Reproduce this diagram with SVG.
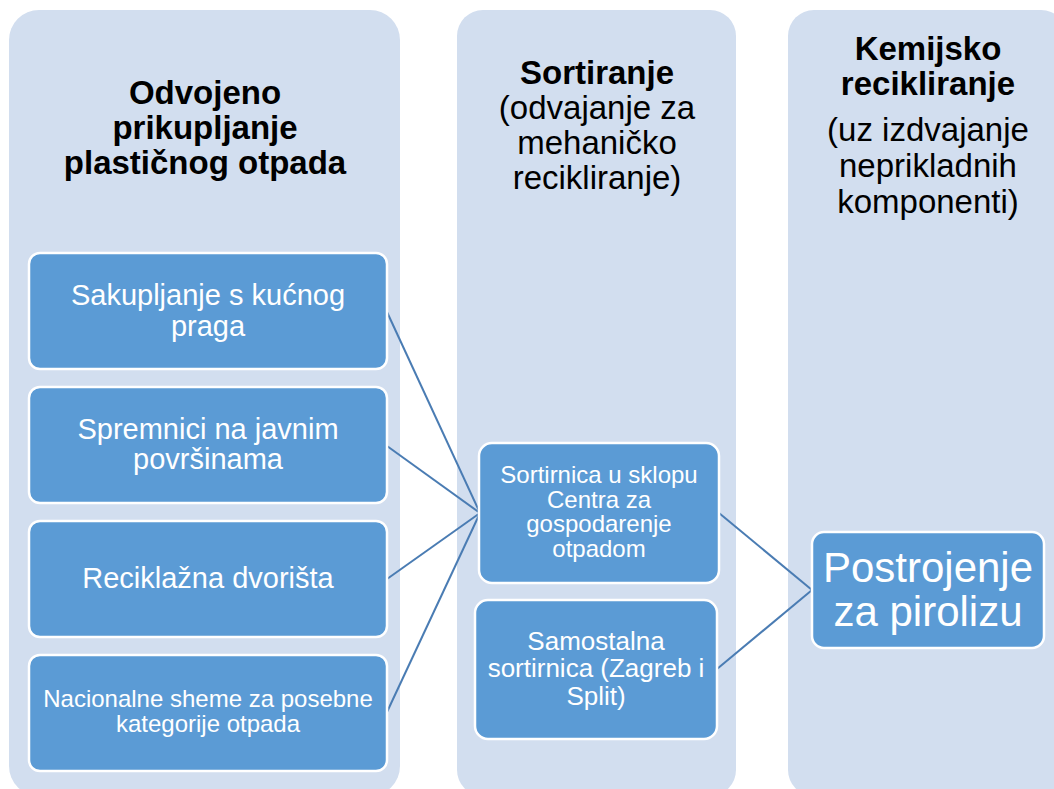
<svg xmlns="http://www.w3.org/2000/svg" width="1054" height="789" viewBox="0 0 1054 789">
<style>
.col{fill:#D2DEEF;}
.box{fill:#5B9BD5;stroke:#FFFFFF;stroke-width:2.5;}
.t{font-family:"Liberation Sans",Arial,sans-serif;text-anchor:middle;}
.w{fill:#FFFFFF;}
.h{fill:#000000;font-weight:bold;font-size:33px;}
.s{fill:#000000;font-size:33px;}
.con{fill:none;stroke:#4A7CB3;stroke-width:2;}
</style>
<rect width="1054" height="789" fill="#FFFFFF"/>
<g id="col1">
<rect class="col" x="9" y="10" width="391" height="786" rx="30"/>
<text class="t h" x="205" y="104">Odvojeno</text>
<text class="t h" x="205" y="139">prikupljanje</text>
<text class="t h" x="205" y="174">plastičnog otpada</text>
</g>
<g id="col2">
<rect class="col" x="457" y="10" width="279" height="786" rx="26"/>
<text class="t h" x="597" y="84">Sortiranje</text>
<text class="t s" x="597" y="119">(odvajanje za</text>
<text class="t s" x="597" y="154">mehaničko</text>
<text class="t s" x="597" y="189">recikliranje)</text>
</g>
<g id="col3">
<rect class="col" x="788" y="10" width="279" height="786" rx="26"/>
<text class="t h" x="928" y="60">Kemijsko</text>
<text class="t h" x="928" y="95">recikliranje</text>
<text class="t s" x="928" y="141">(uz izdvajanje</text>
<text class="t s" x="928" y="177">neprikladnih</text>
<text class="t s" x="928" y="213">komponenti)</text>
</g>
<g id="connectors">
<line class="con" x1="387" y1="312" x2="480" y2="513"/>
<line class="con" x1="387" y1="446" x2="480" y2="513"/>
<line class="con" x1="387" y1="579" x2="480" y2="513"/>
<line class="con" x1="387" y1="712" x2="480" y2="513"/>
<line class="con" x1="719" y1="513" x2="812" y2="590"/>
<line class="con" x1="717" y1="669" x2="812" y2="590"/>
</g>
<g id="n1">
<rect class="box" x="29" y="253" width="358" height="116" rx="11"/>
<text class="t w" x="208" y="305" font-size="29">Sakupljanje s kućnog</text>
<text class="t w" x="208" y="336" font-size="29">praga</text>
</g>
<g id="n2">
<rect class="box" x="29" y="387" width="358" height="116" rx="11"/>
<text class="t w" x="208" y="439" font-size="29">Spremnici na javnim</text>
<text class="t w" x="208" y="469" font-size="29">površinama</text>
</g>
<g id="n3">
<rect class="box" x="29" y="521" width="358" height="116" rx="11"/>
<text class="t w" x="208" y="588" font-size="29">Reciklažna dvorišta</text>
</g>
<g id="n4">
<rect class="box" x="29" y="655" width="358" height="116" rx="11"/>
<text class="t w" x="208" y="707" font-size="24">Nacionalne sheme za posebne</text>
<text class="t w" x="208" y="732" font-size="24">kategorije otpada</text>
</g>
<g id="n5">
<rect class="box" x="479" y="443" width="240" height="140" rx="13"/>
<text class="t w" x="599" y="483" font-size="24">Sortirnica u sklopu</text>
<text class="t w" x="599" y="507.5" font-size="24">Centra za</text>
<text class="t w" x="599" y="532" font-size="24">gospodarenje</text>
<text class="t w" x="599" y="557" font-size="24">otpadom</text>
</g>
<g id="n6">
<rect class="box" x="475" y="600" width="242" height="139" rx="13"/>
<text class="t w" x="596" y="649.5" font-size="26">Samostalna</text>
<text class="t w" x="596" y="677" font-size="26">sortirnica (Zagreb i</text>
<text class="t w" x="596" y="704.5" font-size="26">Split)</text>
</g>
<g id="n7">
<rect class="box" x="812" y="532" width="232" height="116" rx="12"/>
<text class="t w" x="928" y="582" font-size="42">Postrojenje</text>
<text class="t w" x="928" y="626" font-size="42">za pirolizu</text>
</g>
</svg>
